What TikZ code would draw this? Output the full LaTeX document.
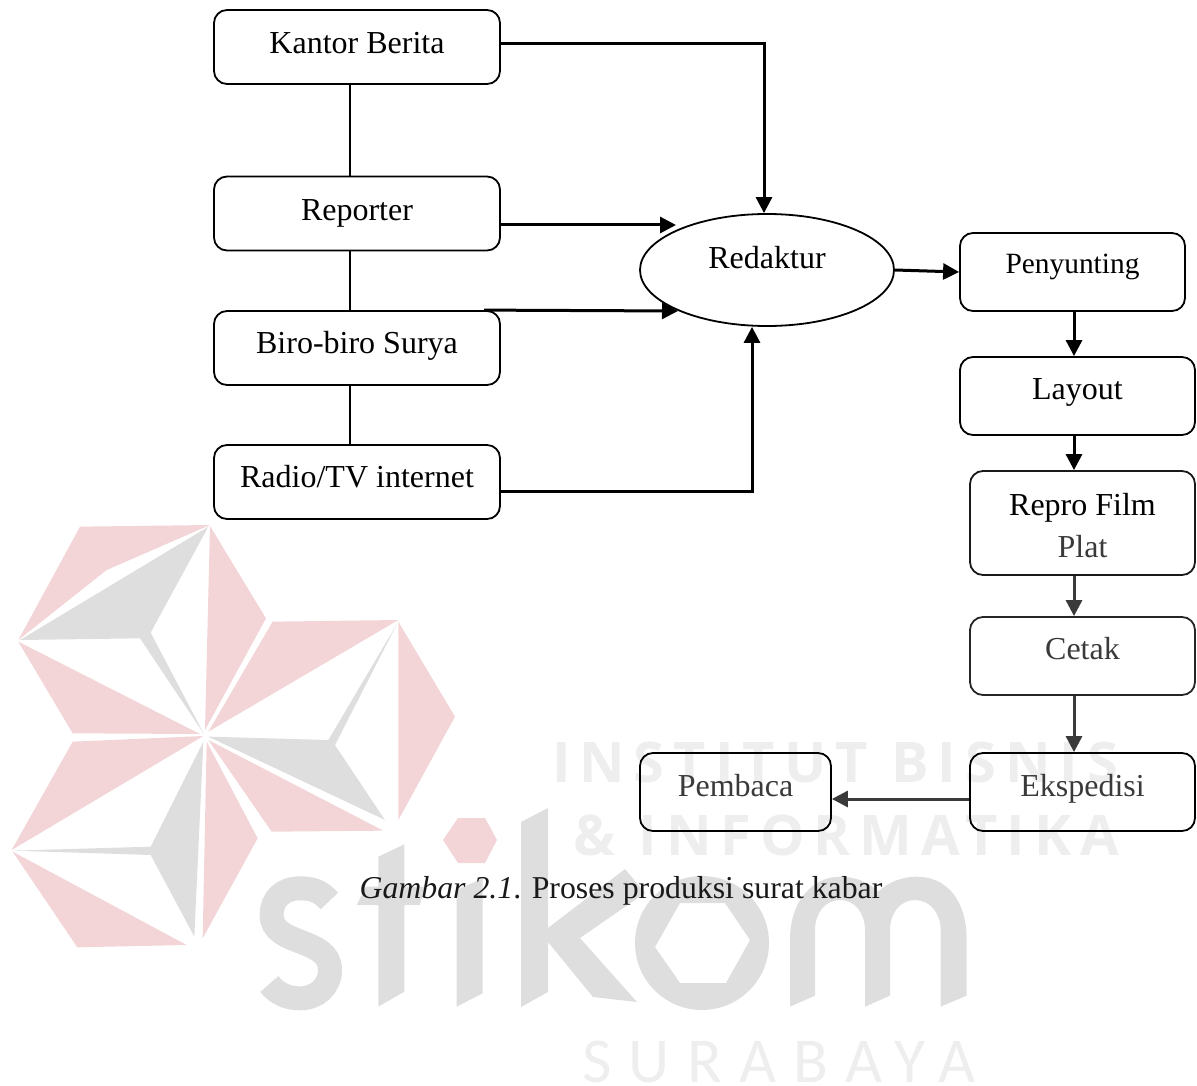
\documentclass[tikz,border=0pt]{standalone}
\usepackage{fontspec}
\usetikzlibrary{arrows.meta,shapes.geometric}
\setmainfont{Liberation Serif}
\newfontfamily\wmbold[LetterSpace=16]{Open Sans}
\newfontfamily\wmthin[LetterSpace=27]{Carlito}
\definecolor{wmpink}{HTML}{F3D5D8}
\definecolor{wmgrey}{HTML}{DEDEDE}
\definecolor{wmtext}{HTML}{EEEEEE}
\definecolor{soft}{HTML}{3A3A3A}
\tikzset{
  x=1pt,y=-1pt,
  base/.style={draw=black,line width=1.8pt,inner sep=0pt,font=\fontsize{32}{38}\selectfont,text=black},
  box/.style={base,rectangle,rounded corners=13pt},
  srcbox/.style={box,minimum width=286pt,minimum height=74pt},
  conn/.style={line width=3pt,-{Triangle[length=16pt,width=16pt]}},
  softconn/.style={conn,draw=soft,-{Triangle[length=16pt,width=16pt,fill=soft]}},
  plainline/.style={line width=1.8pt},
  bl/.style={text height=22pt,text depth=#1},
}
\begin{document}
\begin{tikzpicture}
\useasboundingbox (0,0) rectangle (1197,1086);
% --- watermark logo
\begin{scope}[xshift=0pt,yshift=-510pt,x=0.33333pt,y=-0.33333pt]
\fill[wmpink] (240,50)--(630,45)--(320,180)--(55,390)--cycle;
\fill[wmgrey] (625,50)--(452,368)--(612,672)--(420,385)--(60,390)--cycle;
\fill[wmpink] (55,395)--(600,672)--(218,670)--cycle;
\fill[wmpink] (630,48)--(798,325)--(615,660)--cycle;
\fill[wmpink] (818,335)--(1195,330)--(625,665)--cycle;
\fill[wmgrey] (1192,340)--(1005,705)--(1155,930)--(625,680)--(985,690)--cycle;
\fill[wmpink] (1195,335)--(1365,620)--(1195,930)--cycle;
\fill[wmpink] (625,690)--(1150,962)--(815,965)--cycle;
\fill[wmpink] (218,695)--(610,678)--(35,1020)--cycle;
\fill[wmgrey] (610,695)--(452,1010)--(40,1022)--(452,1035)--(583,1280)--cycle;
\fill[wmpink] (38,1025)--(560,1305)--(232,1312)--cycle;
\fill[wmpink] (620,695)--(773,985)--(608,1285)--cycle;
\end{scope}
\fill[wmpink] (443,840)--(458,818)--(485,818)--(497,840)--(485,863)--(458,863)--cycle;
% --- watermark word
\begin{scope}[xshift=240pt,yshift=-790pt,x=0.33333pt,y=-0.33333pt]
\draw[wmgrey,line width=24pt] (268,333) .. controls (240,300) and (210,295) .. (180,295)
  .. controls (130,295) and (95,325) .. (95,375)
  .. controls (95,470) and (270,440) .. (270,540)
  .. controls (270,590) and (230,625) .. (180,625)
  .. controls (140,625) and (110,610) .. (88,582);
\fill[wmgrey] (415,200)--(493,163)--(493,290)--(553,290)--(540,345)--(493,345)--(493,605)--(415,650)--(415,345)--(350,345)--(378,290)--(415,290)--cycle;
\fill[wmgrey] (650,300)--(728,265)--(728,610)--(650,650)--cycle;
\end{scope}
\fill[wmgrey] (521,822)--(548,808)--(548,928)--(625,869)--(645,893)--(580,938)--(637,1002)--(593,997)--(548,942)--(548,992)--(521,1007)--cycle;
\fill[wmgrey,even odd rule] (702,943) circle [radius=67pt]
  (655,947)--(680,903)--(725,903)--(750,940)--(726,983)--(680,983)--cycle;
\begin{scope}[xshift=600pt,yshift=-850pt,x=0.33333pt,y=-0.33333pt]
\fill[wmgrey] (570,470)--(570,270) .. controls (570,150) and (640,80) .. (720,80)
  .. controls (770,80) and (810,100) .. (835,125)
  .. controls (865,95) and (910,80) .. (950,80)
  .. controls (1040,80) and (1100,150) .. (1100,270)
  --(1100,437)--(1022,470)--(1022,240) .. controls (1022,190) and (990,150) .. (945,150)
  .. controls (900,150) and (870,190) .. (870,240)
  --(870,437)--(795,470)--(795,240) .. controls (795,190) and (765,150) .. (720,150)
  .. controls (675,150) and (645,190) .. (645,240)
  --(645,437)--cycle;
\end{scope}
\node[text=wmtext,inner sep=0pt,anchor=base,font=\wmbold\bfseries\fontsize{56}{60}\selectfont] (wm1) at (835,782) {INSTITUT BISNIS};
\node[text=wmtext,inner sep=0pt,anchor=base,font=\wmbold\bfseries\fontsize{56}{60}\selectfont] (wm2) at (846,855) {\& INFORMATIKA};
\node[text=wmtext,inner sep=0pt,anchor=base,font=\wmthin\fontsize{64}{68}\selectfont] (wm3) at (779,1082) {SURABAYA};
% --- diagram nodes
\node[srcbox,bl=8pt] (kantor) at (357,47) {Kantor Berita};
\node[srcbox,bl=8.5pt] (reporter) at (357,213.5) {Reporter};
\node[srcbox,bl=11pt] (biro) at (357,348) {Biro-biro Surya};
\node[srcbox,bl=11pt] (radio) at (357,482) {Radio/TV internet};
\node[base,ellipse,minimum width=254pt,minimum height=112pt,bl=24pt] (redaktur) at (767,270) {Redaktur};
\node[box,minimum width=225pt,minimum height=78pt,bl=19pt,font=\fontsize{29.4}{34}\selectfont] (penyunting) at (1072.5,272) {Penyunting};
\node[box,minimum width=235pt,minimum height=78pt,bl=16pt] (layout) at (1077.5,396) {Layout};
\node[box,minimum width=225pt,minimum height=104pt,align=center,font=\fontsize{32}{42}\selectfont,draw=black!90] (repro) at (1082.5,523) {\rule{0pt}{27pt}Repro Film\\{\color{soft}Plat}};
\node[box,minimum width=225pt,minimum height=78pt,bl=15pt,text=soft,draw=black!85] (cetak) at (1082.5,656) {Cetak};
\node[box,minimum width=225pt,minimum height=78pt,bl=13.5pt,text=soft] (ekspedisi) at (1082.5,792) {Ekspedisi};
\node[box,minimum width=191pt,minimum height=78pt,bl=13.5pt,text=soft] (pembaca) at (735.5,792) {Pembaca};
\node[inner sep=0pt,anchor=base,font=\fontsize{31.8}{38}\selectfont,text=black!90] (caption) at (621,898.5) {\textit{Gambar 2.1}. Proses produksi surat kabar};
% --- free ends of the two side arrows
\coordinate (repIn) at (676,225);
\coordinate (biroIn) at (678,311);
% --- connectors
\draw[plainline] ([xshift=-7pt]kantor.south) -- ([xshift=-7pt]reporter.north);
\draw[plainline] ([xshift=-7pt]reporter.south) -- ([xshift=-7pt]biro.north);
\draw[plainline] ([xshift=-7pt]biro.south) -- ([xshift=-7pt]radio.north);
\draw[conn] ([yshift=3pt]kantor.east) -| ([xshift=-3pt]redaktur.north);
\draw[conn] ([yshift=-11.5pt]reporter.east) -- (repIn);
\draw[conn] ([xshift=127pt]biro.north) -- (biroIn);
\draw[conn] ([yshift=-9pt]radio.east) -| ([xshift=-15pt]redaktur.south);
\draw[conn] (redaktur.east) -- (penyunting.west);
\draw[conn] ([xshift=1.5pt]penyunting.south) -- ([xshift=-3.5pt]layout.north);
\draw[conn] ([xshift=-3.5pt]layout.south) -- ([xshift=-8.5pt]repro.north);
\draw[softconn] ([xshift=-8.5pt]repro.south) -- ([xshift=-8.5pt]cetak.north);
\draw[softconn] ([xshift=-8.5pt]cetak.south) -- ([xshift=-8.5pt]ekspedisi.north);
\draw[softconn] ([yshift=-7pt]ekspedisi.west) -- ([yshift=-7pt]pembaca.east);
\end{tikzpicture}
\end{document}
